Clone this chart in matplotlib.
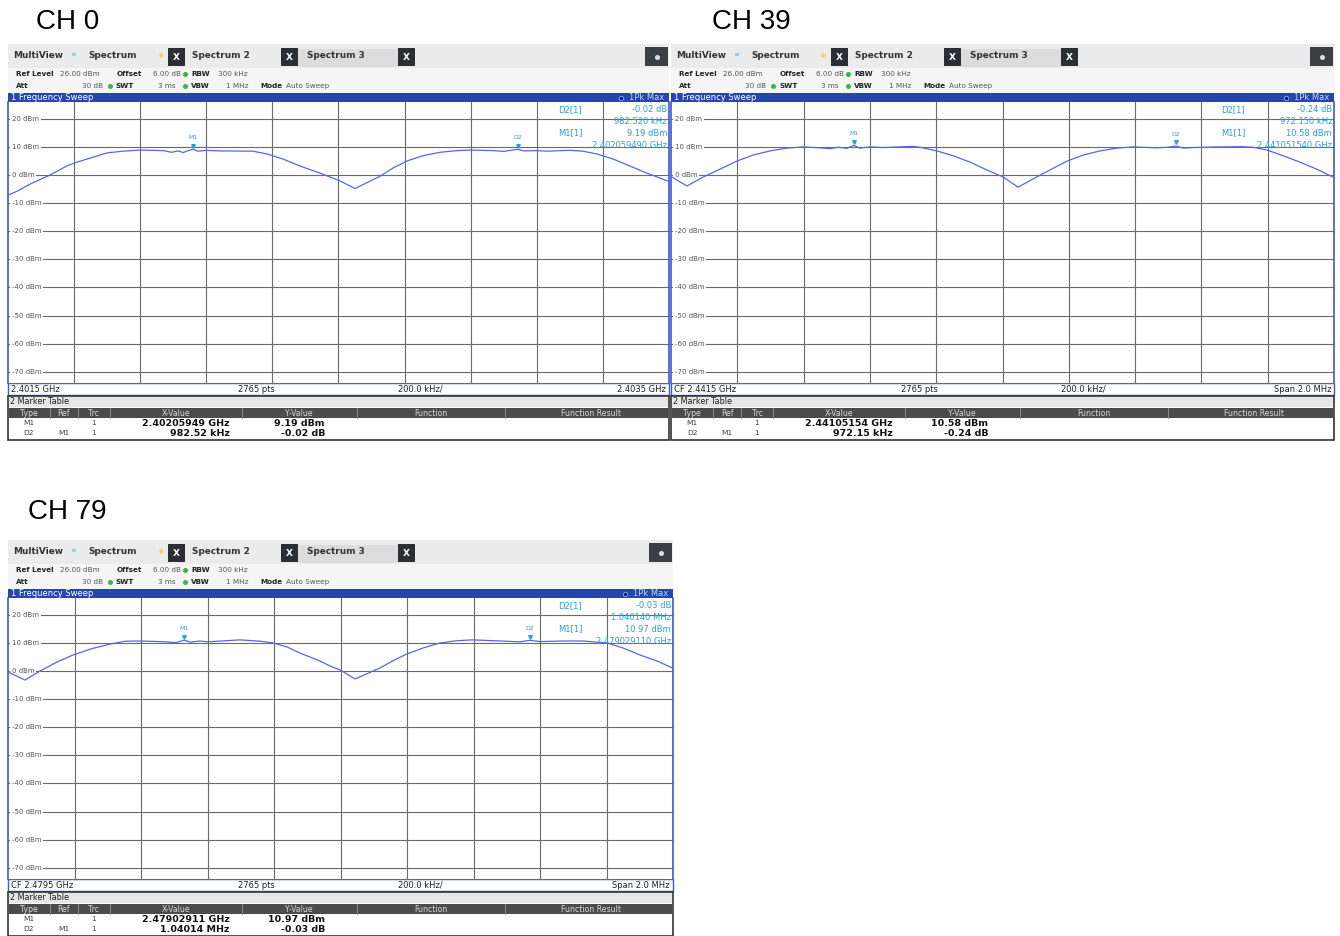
import matplotlib.pyplot as plt
from matplotlib.patches import Rectangle

plt.rcParams['font.family'] = ['DejaVu Sans']

# trace samples: offset from sweep start (MHz) and level (dBm)
ch0_offset_mhz = [0.000, 0.030, 0.067, 0.127, 0.179, 0.209, 0.239, 0.300, 0.348, 0.399,
                  0.470, 0.495, 0.515, 0.530, 0.545, 0.55949, 0.575, 0.600, 0.640, 0.741,
                  0.784, 0.832, 0.884, 0.944, 1.005, 1.050, 1.126, 1.165, 1.207, 1.256,
                  1.307, 1.359, 1.398, 1.470, 1.500, 1.520, 1.54201, 1.560, 1.600, 1.631,
                  1.700, 1.740, 1.782, 1.831, 1.882, 1.933, 2.000]
ch0_level_dbm = [-7.2, -5.6, -3.2, 0.0, 3.3, 4.6, 5.7, 7.9, 8.5, 8.9,
                 8.7, 8.1, 8.6, 8.0, 8.7, 9.19, 8.5, 8.8, 8.6, 8.5,
                 7.5, 5.7, 3.2, 0.7, -2.1, -4.8, -0.4, 2.5, 5.0, 6.9,
                 8.1, 8.7, 8.9, 8.7, 8.4, 8.8, 9.17, 8.6, 8.7, 8.5,
                 8.8, 8.5, 7.5, 5.7, 3.2, 0.7, -2.3]

ch39_offset_mhz = [0.000, 0.048, 0.097, 0.148, 0.199, 0.247, 0.299, 0.350, 0.398, 0.449,
                   0.480, 0.505, 0.530, 0.55154, 0.570, 0.600, 0.640, 0.730, 0.751, 0.802,
                   0.851, 0.902, 0.953, 1.002, 1.047, 1.092, 1.143, 1.195, 1.243, 1.294,
                   1.345, 1.394, 1.466, 1.500, 1.52369, 1.545, 1.580, 1.647, 1.720, 1.756,
                   1.798, 1.846, 1.897, 1.948, 2.000]
ch39_level_dbm = [-0.5, -3.9, -0.7, 2.1, 5.0, 7.1, 8.6, 9.6, 10.0, 9.7,
                  9.4, 9.9, 9.5, 10.58, 9.6, 10.0, 9.8, 10.2, 9.9, 8.6,
                  6.9, 4.6, 1.8, -0.7, -4.3, -1.4, 1.8, 5.0, 7.1, 8.6,
                  9.6, 10.0, 9.7, 9.9, 10.34, 9.6, 9.8, 10.0, 10.1, 9.9,
                  8.9, 6.9, 4.6, 2.1, -0.9]

ch79_offset_mhz = [0.000, 0.051, 0.096, 0.147, 0.195, 0.253, 0.307, 0.352, 0.397, 0.478,
                   0.505, 0.52911, 0.550, 0.577, 0.600, 0.698, 0.760, 0.797, 0.839, 0.878,
                   0.938, 0.968, 0.999, 1.044, 1.119, 1.158, 1.200, 1.248, 1.299, 1.350,
                   1.398, 1.501, 1.540, 1.56925, 1.600, 1.669, 1.729, 1.802, 1.850, 1.901,
                   1.952, 2.000]
ch79_level_dbm = [-0.3, -3.2, 0.0, 3.2, 5.7, 8.0, 9.6, 10.6, 10.7, 10.4,
                  10.1, 10.97, 10.3, 10.7, 10.4, 11.1, 10.6, 10.0, 8.6, 6.4,
                  3.6, 1.8, 0.4, -2.8, 1.1, 3.7, 6.1, 8.2, 10.0, 10.8,
                  11.1, 10.6, 10.4, 10.94, 10.5, 10.7, 10.7, 10.0, 8.2, 5.7,
                  3.6, 1.0]

# sweep start (GHz) and marker readouts
ch0_start_ghz, ch39_start_ghz, ch79_start_ghz = 2.4015, 2.4405, 2.4785
ch0_m1_ghz, ch0_m1_dbm, ch0_d2_khz, ch0_d2_db = 2.40205949, 9.19, 982.52, -0.02
ch39_m1_ghz, ch39_m1_dbm, ch39_d2_khz, ch39_d2_db = 2.44105154, 10.58, 972.15, -0.24
ch79_m1_ghz, ch79_m1_dbm, ch79_d2_khz, ch79_d2_db = 2.47902911, 10.97, 1040.14, -0.03

span_mhz = 2.0
grid_levels = [20, 10, 0, -10, -20, -30, -40, -50, -60, -70]

TRACE = '#5566ee'
MARK = '#27a0e0'
GRID = '#6a6a6a'
FRAME = '#3a5ad0'

fig = plt.figure(figsize=(13.4, 9.36), dpi=100)
bg = fig.add_axes([0, 0, 1, 1])
bg.set_xlim(0, 1340)
bg.set_ylim(936, 0)
bg.axis('off')


def box(x, y, w, h, color, ec='none', lw=0, z=1):
    bg.add_patch(Rectangle((x, y), w, h, facecolor=color, edgecolor=ec, lw=lw, zorder=z))


def txt(x, y, s, size=5.2, color='#222222', weight='normal', ha='left', z=3):
    bg.text(x, y, s, fontsize=size, color=color, fontweight=weight, ha=ha, va='center', zorder=z)


def xbox(x, y0):
    box(x, y0 + 4, 17, 18, '#2b2f33', z=2)
    txt(x + 8.5, y0 + 13, 'X', 6.5, 'white', 'bold', 'center')


def dot(x, y, c='#3cb44b'):
    bg.plot(x, y, 'o', ms=2.6, color=c, zorder=3)


def draw_panel(x0, y0, W, title, tx, ty, start, offs, lvls, m1, m1_dbm, d2_khz, d2_db,
               left_lbl, right_lbl):
    bg.text(tx, ty, title, fontsize=20, color='black', ha='left', va='center',
            family=['Liberation Sans', 'DejaVu Sans'])

    # tab strip and setting rows
    box(x0, y0, W, 24, '#ebebeb')
    box(x0, y0 + 24, W, 25, '#f5f5f5')
    txt(x0 + 5, y0 + 12, 'MultiView', 6.4, '#333333', 'bold')
    box(x0 + 64, y0 + 9, 4, 3, '#8ad4f2', z=2)
    txt(x0 + 80, y0 + 12, 'Spectrum', 6.4, '#333333', 'bold')
    txt(x0 + 149, y0 + 11, '\u2605', 5.5, '#f2d21b')
    xbox(x0 + 160, y0)
    txt(x0 + 184, y0 + 12, 'Spectrum 2', 6.4, '#333333', 'bold')
    xbox(x0 + 273, y0)
    box(x0 + 290, y0 + 5, 100, 18, '#dcdcdc', z=1.5)
    txt(x0 + 299, y0 + 12, 'Spectrum 3', 6.4, '#333333', 'bold')
    xbox(x0 + 390, y0)
    box(x0 + W - 24, y0 + 3, 23, 19, '#3c4044', z=2)
    dot(x0 + W - 12.5, y0 + 12.5, '#dddddd')

    r1, r2 = y0 + 30, y0 + 42
    txt(x0 + 8, r1, 'Ref Level', weight='bold')
    txt(x0 + 52, r1, '26.00 dBm', color='#555555')
    txt(x0 + 109, r1, 'Offset', weight='bold')
    txt(x0 + 145, r1, '6.00 dB', color='#555555')
    dot(x0 + 177, r1)
    txt(x0 + 183, r1, 'RBW', weight='bold')
    txt(x0 + 210, r1, '300 kHz', color='#555555')
    txt(x0 + 8, r2, 'Att', weight='bold')
    txt(x0 + 74, r2, '30 dB', color='#555555')
    dot(x0 + 102, r2)
    txt(x0 + 108, r2, 'SWT', weight='bold')
    txt(x0 + 150, r2, '3 ms', color='#555555')
    dot(x0 + 177, r2)
    txt(x0 + 183, r2, 'VBW', weight='bold')
    txt(x0 + 218, r2, '1 MHz', color='#555555')
    txt(x0 + 252, r2, 'Mode', weight='bold')
    txt(x0 + 278, r2, 'Auto Sweep', color='#555555')

    # window title bar
    box(x0, y0 + 49, W, 9, '#2746ad', z=2)
    txt(x0 + 3, y0 + 53.5, '1 Frequency Sweep', 6, 'white')
    bg.plot(x0 + W - 48, y0 + 53.5, 'o', ms=3.2, color='#0a1f7a', mec='#8fa6ff', mew=0.6, zorder=4)
    txt(x0 + W - 5, y0 + 53.5, '1Pk Max', 6, '#c5d0f7', ha='right')

    # sweep diagram
    top, h = y0 + 58, 281
    ax = fig.add_axes([x0 / 1340, 1 - (top + h) / 936, W / 1340, h / 936])
    ax.set_zorder(2)
    ax.set_xlim(start, start + span_mhz / 1000)
    ax.set_ylim(-74, 26)
    ax.set_xticks([])
    ax.set_yticks([])
    for side in ['left', 'right']:
        ax.spines[side].set_color(FRAME)
        ax.spines[side].set_linewidth(1.2)
    ax.spines['top'].set_visible(False)
    ax.spines['bottom'].set_color(GRID)
    ax.spines['bottom'].set_linewidth(0.8)
    for i in range(1, 10):
        ax.axvline(start + i * span_mhz / 10000, color=GRID, lw=0.8, zorder=1)
    for lv in grid_levels:
        ax.axhline(lv, color=GRID, lw=0.8, zorder=1)
        ax.text(4 / W, lv, f'{lv} dBm', transform=ax.get_yaxis_transform(), fontsize=5,
                color='#555555', va='center', ha='left', zorder=2, clip_on=True,
                bbox=dict(boxstyle='square,pad=0.25', fc='white', ec='none'))

    freqs = [start + o / 1000 for o in offs]
    ax.plot(freqs, lvls, color=TRACE, lw=0.9, zorder=3)

    d2 = m1 + d2_khz / 1e6
    d2_dbm = m1_dbm + d2_db
    for name, fx, fy in [('M1', m1, m1_dbm), ('D2', d2, d2_dbm)]:
        ax.plot(fx, fy + 1.3, 'v', ms=2.6, color=MARK, zorder=4)
        ax.text(fx, fy + 4.2, name, fontsize=4.4, color=MARK, ha='center', va='center', zorder=4)

    if d2_khz >= 1000:
        d2_read, d2_tab = f'{d2_khz / 1000:.6f} MHz', f'{d2_khz / 1000:.5f} MHz'
    else:
        d2_read, d2_tab = f'{d2_khz:.3f} kHz', f'{d2_khz:.2f} kHz'
    rx, rr = x0 + 550, x0 + W - 2
    for yy, lab, val in [(66, 'D2[1]', f'{d2_db:.2f} dB'), (78, '', d2_read),
                         (89, 'M1[1]', f'{m1_dbm:.2f} dBm'), (101, '', f'{m1:.9f} GHz')]:
        if lab:
            ax.text(rx, y0 + yy, lab, transform=bg.transData, fontsize=6, color=MARK,
                    va='center', ha='left', zorder=5)
        ax.text(rr, y0 + yy, val, transform=bg.transData, fontsize=6, color=MARK,
                va='center', ha='right', zorder=5)

    # frequency axis row
    box(x0, y0 + 339, W, 12, 'white', ec=FRAME, lw=1, z=2)
    yb = y0 + 345
    txt(x0 + 3, yb, left_lbl, 6, '#222222')
    txt(x0 + 248, yb, '2765 pts', 6, '#222222', ha='center')
    txt(x0 + 412, yb, '200.0 kHz/', 6, '#222222', ha='center')
    txt(x0 + W - 3, yb, right_lbl, 6, '#222222', ha='right')

    # marker table
    box(x0, y0 + 352, W, 44, 'white', ec='#333333', lw=1.2, z=2)
    box(x0 + 1, y0 + 353, W - 2, 10, '#e6e6e6', z=2.5)
    txt(x0 + 2, y0 + 358, '2 Marker Table', 5.8, '#222222')
    box(x0 + 1, y0 + 364, W - 2, 10, '#4b4b4b', z=2.5)
    for sx in [42, 70, 102, 234, 349, 497]:
        bg.plot([x0 + sx, x0 + sx], [y0 + 364, y0 + 374], color='#8a8a8a', lw=0.7, zorder=3)
    for cx, name in [(21, 'Type'), (56, 'Ref'), (86, 'Trc'), (168, 'X-Value'),
                     (291, 'Y-Value'), (423, 'Function'), (583, 'Function Result')]:
        txt(x0 + cx, y0 + 369, name, 5.6, '#d8d8d8', ha='center')
    ya, yd = y0 + 379, y0 + 389
    txt(x0 + 21, ya, 'M1', 5.4, '#444444', ha='center')
    txt(x0 + 86, ya, '1', 5.4, '#444444', ha='center')
    txt(x0 + 222, ya, f'{m1:.8f} GHz', 6.8, '#111111', 'bold', 'right')
    txt(x0 + 317, ya, f'{m1_dbm:.2f} dBm', 6.8, '#111111', 'bold', 'right')
    txt(x0 + 21, yd, 'D2', 5.4, '#444444', ha='center')
    txt(x0 + 56, yd, 'M1', 5.4, '#444444', ha='center')
    txt(x0 + 86, yd, '1', 5.4, '#444444', ha='center')
    txt(x0 + 222, yd, d2_tab, 6.8, '#111111', 'bold', 'right')
    txt(x0 + 317, yd, f'{d2_db:.2f} dB', 6.8, '#111111', 'bold', 'right')


draw_panel(8, 44, 661, 'CH 0', 36, 22, ch0_start_ghz, ch0_offset_mhz, ch0_level_dbm,
           ch0_m1_ghz, ch0_m1_dbm, ch0_d2_khz, ch0_d2_db, '2.4015 GHz', '2.4035 GHz')
draw_panel(671, 44, 663, 'CH 39', 712, 22, ch39_start_ghz, ch39_offset_mhz, ch39_level_dbm,
           ch39_m1_ghz, ch39_m1_dbm, ch39_d2_khz, ch39_d2_db, 'CF 2.4415 GHz', 'Span 2.0 MHz')
draw_panel(8, 540, 665, 'CH 79', 28, 512, ch79_start_ghz, ch79_offset_mhz, ch79_level_dbm,
           ch79_m1_ghz, ch79_m1_dbm, ch79_d2_khz, ch79_d2_db, 'CF 2.4795 GHz', 'Span 2.0 MHz')

fig.savefig('out.png', dpi=100)
